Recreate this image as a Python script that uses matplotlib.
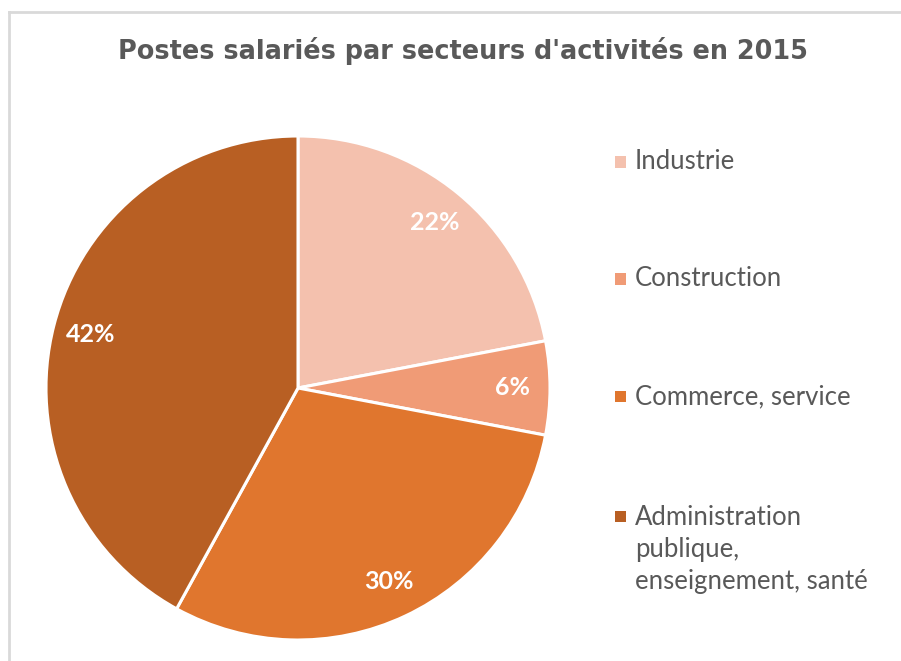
import matplotlib.pyplot as plt
from matplotlib.patches import Rectangle
from matplotlib.lines import Line2D

# Data
sectors = ['Industrie', 'Construction', 'Commerce, service',
           'Administration\npublique,\nenseignement, santé']
shares = [22, 6, 30, 42]
colors = ['#F4C1AE', '#F09B76', '#E0762E', '#B85F23']

W, H = 901, 661
fig = plt.figure(figsize=(W / 100, H / 100), dpi=100)

# light gray frame (top and left visible)
fig.add_artist(Line2D([9 / W, 9 / W], [0, 1 - 12 / H], transform=fig.transFigure,
                      color='#D9D9D9', linewidth=2))
fig.add_artist(Line2D([9 / W, 1], [1 - 12 / H, 1 - 12 / H], transform=fig.transFigure,
                      color='#D9D9D9', linewidth=2))

# Pie axes: centre (298, 388), radius 252 px
cx, cy, r = 298, 388, 252
ax = fig.add_axes([(cx - r) / W, (H - cy - r) / H, 2 * r / W, 2 * r / H])
wedges, texts, autotexts = ax.pie(
    shares, colors=colors, startangle=90, counterclock=False,
    autopct='%1.0f%%', pctdistance=0.85, radius=1,
    wedgeprops=dict(edgecolor='white', linewidth=2.2),
    textprops=dict(color='white', fontsize=18, fontweight='bold', family='Lato'))
ax.set_xlim(-1, 1)
ax.set_ylim(-1, 1)
ax.set_aspect('equal')
ax.axis('off')

# Title
fig.text(463 / W, 1 - 51 / H, "Postes salariés par secteurs d'activités en 2015",
         ha='center', va='center', fontsize=18.4, fontweight='bold',
         color='#595959', family='DejaVu Sans')

# Legend drawn by hand to keep the Excel-style spacing
legend_y = [162, 279, 397, 516]
for lab, col, y in zip(sectors, colors, legend_y):
    fig.add_artist(Rectangle((615 / W, 1 - (y + 5.5) / H), 11 / W, 11 / H,
                             transform=fig.transFigure, facecolor=col, edgecolor='none'))
    if '\n' in lab:
        fig.text(635 / W, 1 - (y - 11) / H, lab, ha='left', va='top',
                 fontsize=18.5, color='#595959', family='Lato', linespacing=1.36)
    else:
        fig.text(635 / W, 1 - y / H, lab, ha='left', va='center',
                 fontsize=18.5, color='#595959', family='Lato')

fig.savefig('out.png', dpi=100)
